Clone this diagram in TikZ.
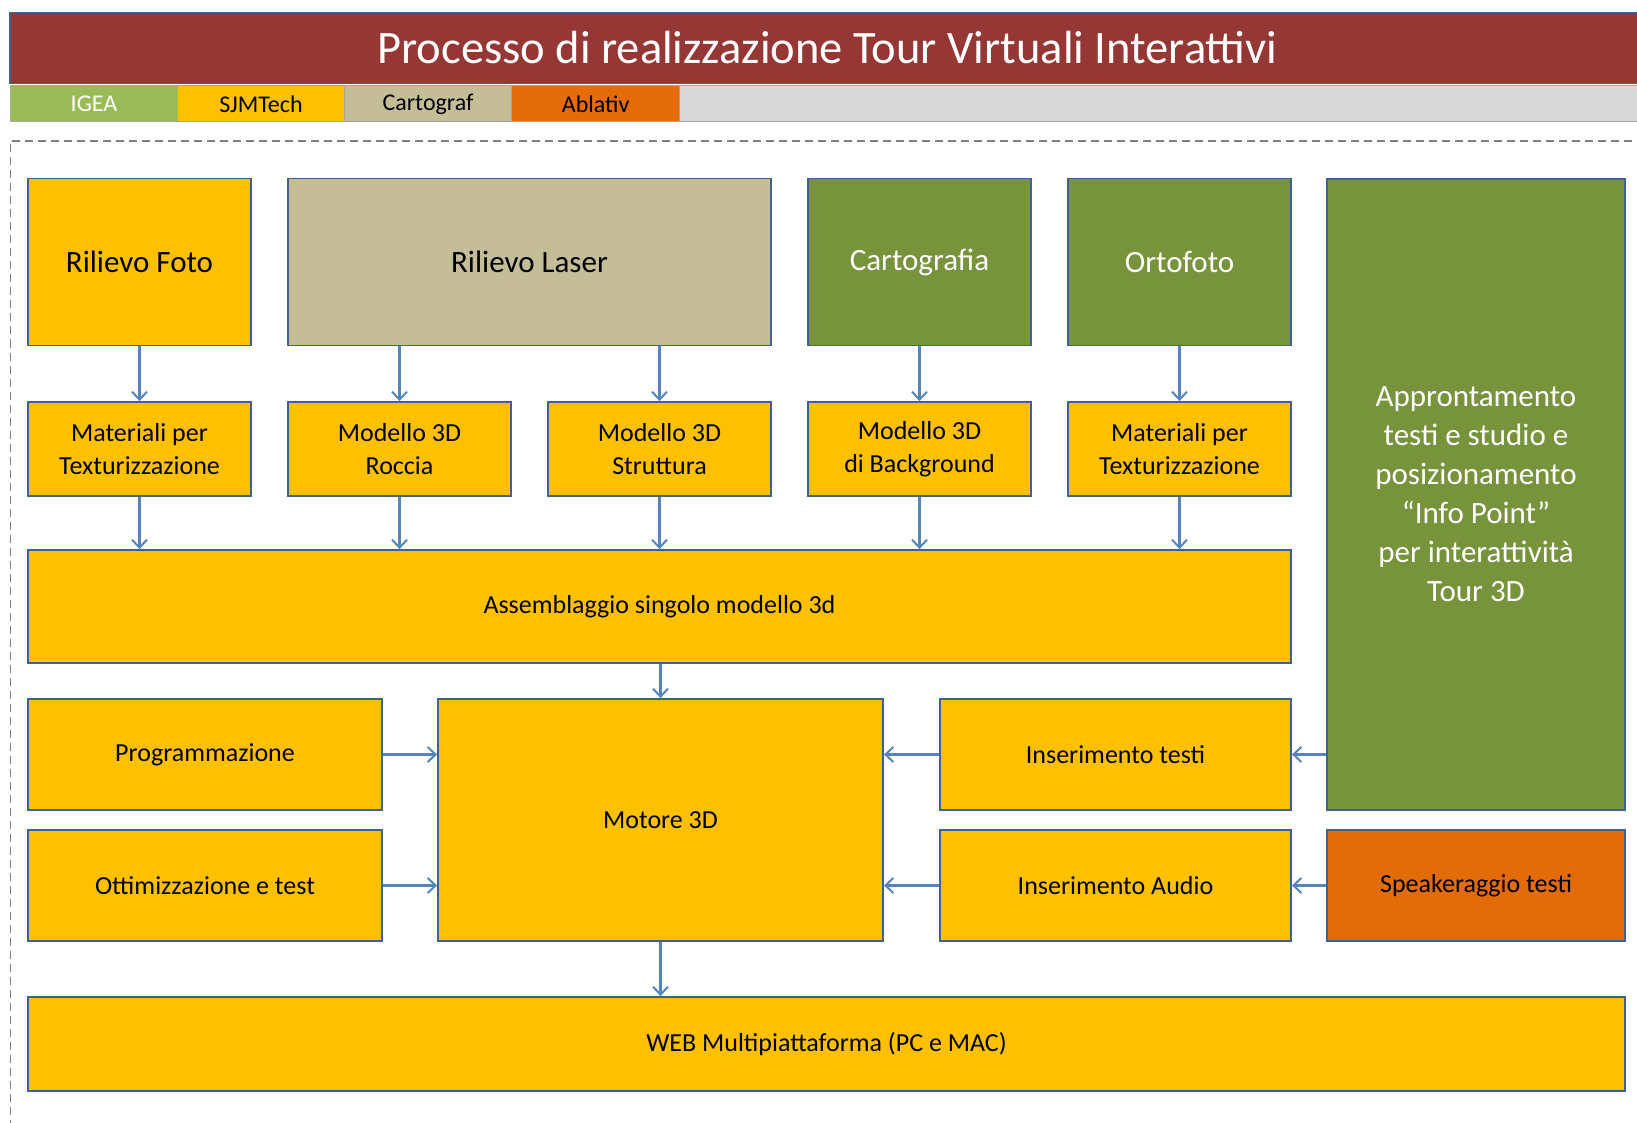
\documentclass[tikz,border=0pt]{standalone}
\usepackage{fontspec}
\setmainfont{Carlito}
\usetikzlibrary{arrows.meta}
\definecolor{titlered}{HTML}{953735}
\definecolor{igea}{HTML}{9BBB59}
\definecolor{gold}{HTML}{FFC000}
\definecolor{tan}{HTML}{C4BD97}
\definecolor{abl}{HTML}{E36C09}
\definecolor{lgray}{HTML}{D9D9D9}
\definecolor{olive}{HTML}{77933C}
\definecolor{boxline}{HTML}{3F6391}
\definecolor{arrowc}{HTML}{5585C0}
\begin{document}
\begin{tikzpicture}[x=1pt,y=-1pt,
  box/.style={draw=boxline, line width=1.8pt, fill=#1, inner sep=2pt, align=center,
    font=\fontsize{26}{32.5}\selectfont},
  bigbox/.style={box=#1, font=\fontsize{31}{39}\selectfont},
  legcell/.style={draw=gray!70, line width=1pt, fill=#1, minimum height=36pt, inner sep=0pt,
    font=\fontsize{24}{28}\selectfont},
  conn/.style={draw=arrowc, line width=2.2pt, -{Straight Barb[length=8pt,width=15pt,line width=2pt]}}
]
\clip (0,0) rectangle (1637,1123);
\fill[white] (0,0) rectangle (1637,1123);
% title and legend
\node[draw=boxline, line width=1.5pt, fill=titlered, text=white, minimum width=1635pt, minimum height=71pt,
  font=\fontsize{46.5}{50}\selectfont] (title) at (827.5,48) {Processo di realizzazione Tour Virtuali Interattivi};
\node[legcell=igea, text=white, minimum width=167pt] (lg1) at (94,104) {IGEA};
\node[legcell=gold, minimum width=167pt] (lg2) at (261,104) {SJMTech};
\node[legcell=tan, minimum width=167pt] (lg3) at (428,104) {Cartograf};
\node[legcell=abl, minimum width=168pt] (lg4) at (595.6,104) {Ablativ};
\node[legcell=lgray, minimum width=966pt] (lg5) at (1162.6,104) {};
% dashed frame
\draw[gray, line width=1.2pt, dash pattern=on 8pt off 5pt] (1645,141) -- (10.5,141) -- (10.5,1130);
% row 1
\node[bigbox=gold, minimum width=223pt, minimum height=167pt] (rf) at (139.5,262) {Rilievo Foto};
\node[bigbox=tan, minimum width=483pt, minimum height=167pt] (rl) at (529.5,262) {Rilievo Laser};
\node[bigbox=olive, text=white, minimum width=223pt, minimum height=167pt] (ca) at (919.5,262) {Cartografia};
\node[bigbox=olive, text=white, minimum width=223pt, minimum height=167pt] (or) at (1179.5,262) {Ortofoto};
\node[bigbox=olive, text=white, minimum width=298pt, minimum height=631pt] (ap) at (1476,494.5)
  {Approntamento\\testi e studio e\\posizionamento\\“Info Point”\\per interattività\\Tour 3D};
% row 2
\node[box=gold, minimum width=223pt, minimum height=94pt] (m1) at (139.5,449) {Materiali per\\Texturizzazione};
\node[box=gold, minimum width=223pt, minimum height=94pt] (mr) at (399.5,449) {Modello 3D\\Roccia};
\node[box=gold, minimum width=223pt, minimum height=94pt] (ms) at (659.5,449) {Modello 3D\\Struttura};
\node[box=gold, minimum width=223pt, minimum height=94pt] (mb) at (919.5,449) {Modello 3D\\di Background};
\node[box=gold, minimum width=223pt, minimum height=94pt] (m2) at (1179.5,449) {Materiali per\\Texturizzazione};
% assembly
\node[box=gold, minimum width=1263pt, minimum height=113pt] (as) at (659.5,606.5) {Assemblaggio singolo modello 3d};
% row 4
\node[box=gold, minimum width=354pt, minimum height=111pt] (pr) at (205,754.5) {Programmazione};
\node[box=gold, minimum width=354pt, minimum height=111pt] (ot) at (205,885.5) {Ottimizzazione e test};
\node[box=gold, minimum width=445pt, minimum height=242pt] (mo) at (660.5,820) {Motore 3D};
\node[box=gold, minimum width=351pt, minimum height=111pt] (it) at (1115.5,754.5) {Inserimento testi};
\node[box=gold, minimum width=351pt, minimum height=111pt] (ia) at (1115.5,885.5) {Inserimento Audio};
\node[box=abl, minimum width=298pt, minimum height=111pt] (sp) at (1476,885.5) {Speakeraggio testi};
% web
\node[box=gold, minimum width=1597pt, minimum height=94pt] (web) at (826.5,1044) {WEB Multipiattaforma (PC e MAC)};
% connectors
\draw[conn] (rf) -- (m1);
\draw[conn] (rl.south -| mr) -- (mr);
\draw[conn] (rl.south -| ms) -- (ms);
\draw[conn] (ca) -- (mb);
\draw[conn] (or) -- (m2);
\draw[conn] (m1) -- (m1 |- as.north);
\draw[conn] (mr) -- (mr |- as.north);
\draw[conn] (ms) -- (ms |- as.north);
\draw[conn] (mb) -- (mb |- as.north);
\draw[conn] (m2) -- (m2 |- as.north);
\draw[conn] (as.south -| mo) -- (mo);
\draw[conn] (mo) -- (mo |- web.north);
\draw[conn] (pr) -- (pr -| mo.west);
\draw[conn] (ot) -- (ot -| mo.west);
\draw[conn] (it) -- (it -| mo.east);
\draw[conn] (ia) -- (ia -| mo.east);
\draw[conn] (ap.west |- it) -- (it);
\draw[conn] (sp) -- (ia);
\end{tikzpicture}
\end{document}
